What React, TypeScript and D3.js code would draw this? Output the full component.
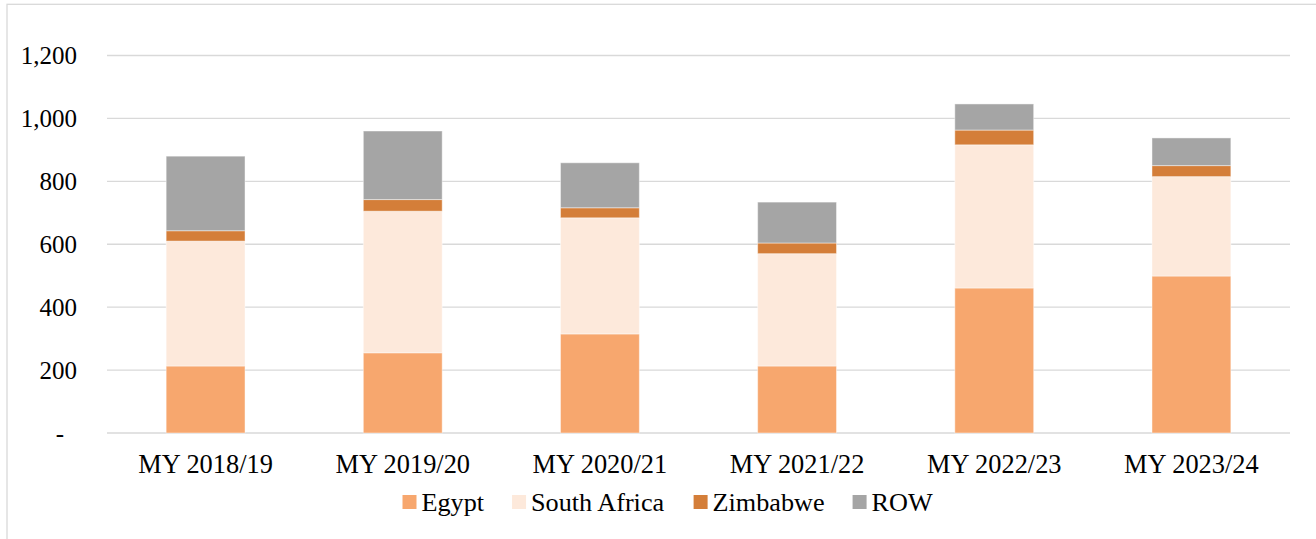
import React from "react";
import * as d3 from "d3";

const categories = ["MY 2018/19", "MY 2019/20", "MY 2020/21", "MY 2021/22", "MY 2022/23", "MY 2023/24"];
const seriesNames = ["Egypt", "South Africa", "Zimbabwe", "ROW"];
const egypt = [213, 255, 315, 213, 461, 499];
const southAfrica = [397, 450, 369, 357, 455, 316];
const zimbabwe = [33, 37, 32, 34, 47, 35];
const row = [237, 218, 143, 130, 83, 88];
const yTicks = [0, 200, 400, 600, 800, 1000, 1200];
const colors = ["#F7A76E", "#FDE9DB", "#D47E39", "#A5A5A5"];

const W = 1316;
const H = 539;
const FONT = '"Liberation Serif", "Times New Roman", serif';

function measure(text: string, size: number): number {
  if (typeof document === "undefined") return text.length * size * 0.5;
  const c = document.createElement("canvas");
  const ctx = c.getContext("2d");
  if (!ctx) return text.length * size * 0.5;
  ctx.font = `${size}px ${FONT}`;
  return ctx.measureText(text).width;
}

export default function App() {
  const table = categories.map((c, i) => ({
    cat: c,
    Egypt: egypt[i],
    "South Africa": southAfrica[i],
    Zimbabwe: zimbabwe[i],
    ROW: row[i],
  }));
  const stack = d3.stack<any>().keys(seriesNames)(table);

  const x = d3.scaleBand<string>().domain(categories).range([107, 1290]).paddingInner(0.6).paddingOuter(0.3);
  const y = d3.scaleLinear().domain([0, 1200]).range([433, 55.5]);
  const fmt = (v: number) => (v === 0 ? "-" : d3.format(",")(v));

  const legendSize = 26.2;
  const sq = 14;
  const gapSqText = 5;
  const gapItems = 28;
  let lx = 402.5;
  const legendItems = seriesNames.map((name, i) => {
    const item = { name, x: lx, color: colors[i] };
    lx += sq + gapSqText + measure(name, legendSize) + gapItems;
    return item;
  });
  const legendY = 502;

  return (
    <svg width={W} height={H} style={{ position: "absolute", left: 0, top: 0, background: "#fff" }} fontFamily={FONT}>
      <rect x={0} y={0} width={W} height={H} fill="#fff" />
      <rect x={7} y={4.3} width={W + 40} height={H + 40} fill="none" stroke="#D9D9D9" strokeWidth={1.3} />
      {yTicks.map((t) => (
        <g key={t}>
          <line x1={107} x2={1290} y1={y(t)} y2={y(t)} stroke="#D9D9D9" strokeWidth={1.3} />
          <text
            x={t === 0 ? 64 : 77}
            y={y(t)}
            dy="0.34em"
            textAnchor="end"
            fontSize={25}
            fill="#000"
          >
            {fmt(t)}
          </text>
        </g>
      ))}
      {stack.map((s, si) => (
        <g key={s.key} fill={colors[si]}>
          {s.map((d: any, i: number) => (
            <rect
              key={i}
              x={x(categories[i])}
              width={x.bandwidth()}
              y={y(d[1])}
              height={y(d[0]) - y(d[1])}
              stroke="#fff"
              strokeOpacity={0.45}
              strokeWidth={1}
            />
          ))}
        </g>
      ))}
      {categories.map((c) => (
        <text key={c} x={(x(c) as number) + x.bandwidth() / 2} y={473} textAnchor="middle" fontSize={26.4} fill="#000">
          {c}
        </text>
      ))}
      {legendItems.map((it) => (
        <g key={it.name}>
          <rect x={it.x} y={legendY - sq / 2} width={sq} height={sq} fill={it.color} />
          <text x={it.x + sq + gapSqText} y={legendY} dy="0.34em" fontSize={legendSize} fill="#000">
            {it.name}
          </text>
        </g>
      ))}
    </svg>
  );
}
